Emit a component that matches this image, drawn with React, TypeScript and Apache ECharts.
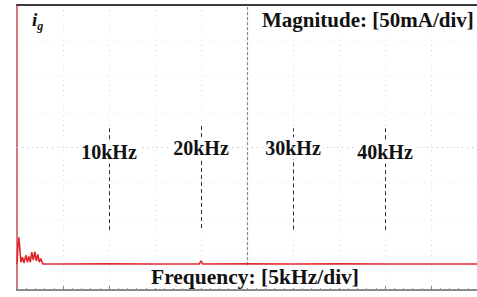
import React, { useEffect, useRef } from "react";
import * as echarts from "echarts";

// Spectrum trace (frequency in kHz, magnitude in mA)
const freqKHz = [0, 0.1, 0.2, 0.32, 0.43, 0.6, 0.75, 0.97, 1.13, 1.29, 1.45, 1.61, 1.77, 1.94, 2.1, 2.26, 2.42, 2.58, 2.8, 5, 10, 15, 19.8, 20.0, 20.2, 25, 30, 35, 40, 45, 50];
const magnitudeMA = [36, 62, 74, 56, 39, 46, 38, 49, 39, 47, 39, 53, 42, 54, 41, 50, 39, 44, 36.5, 36.4, 36.8, 36.4, 36.4, 41, 36.4, 36.6, 36.4, 36.6, 36.4, 36.5, 36.4];

// Harmonic marker lines (kHz) and their labels
const markerFreqs = [10, 20, 30, 40];
const markerLabels = ["10kHz", "20kHz", "30kHz", "40kHz"];
const markerLow = [84, 87, 85, 84];
const markerHigh = [227, 231, 227, 227];
const labelLevels = [193, 199, 199, 193];

// Axis settings: 5 kHz/div, 50 mA/div
const xMin = 0;
const xMax = 50;
const xDiv = 5;
const yMin = 0;
const yMax = 400;
const yDiv = 50;

const SERIF = "'Liberation Serif', 'Times New Roman', serif";

export default function App() {
  const ref = useRef<HTMLDivElement>(null);

  useEffect(() => {
    if (!ref.current) return;
    const chart = echarts.init(ref.current, undefined, { renderer: "svg" });
    const traceData = freqKHz.map((f, i) => [f, magnitudeMA[i]]);

    chart.setOption({
      animation: false,
      backgroundColor: "#ffffff",
      grid: { left: 17, top: 5, width: 465, height: 285, containLabel: false },
      xAxis: [
        {
          type: "value",
          min: xMin,
          max: xMax,
          interval: xDiv,
          position: "bottom",
          axisLine: { show: true, lineStyle: { color: "#666", width: 1.5 } },
          axisTick: { show: true, inside: true, length: 4, lineStyle: { color: "#888" } },
          minorTick: { show: true, splitNumber: 5, length: 2, lineStyle: { color: "#999" } },
          axisLabel: { show: false },
          splitLine: { show: true, lineStyle: { color: "#dedede", type: [1, 4], width: 1 } },
        },
        {
          type: "value",
          min: xMin,
          max: xMax,
          interval: xDiv,
          position: "top",
          axisLine: { show: true, lineStyle: { color: "#3a3a3a", width: 2 } },
          axisTick: { show: false },
          axisLabel: { show: false },
          splitLine: { show: false },
        },
      ],
      yAxis: {
        type: "value",
        min: yMin,
        max: yMax,
        interval: yDiv,
        axisLine: { show: true, lineStyle: { color: "#d27a82", width: 2 } },
        axisTick: { show: false },
        axisLabel: { show: false },
        splitLine: { show: true, lineStyle: { color: "#e6e6e6", type: [1, 5], width: 1 } },
      },
      series: [
        {
          type: "line",
          data: traceData,
          showSymbol: false,
          smooth: false,
          clip: true,
          lineStyle: { color: "#e3262c", width: 1.6 },
          z: 5,
          markLine: {
            silent: true,
            symbol: "none",
            label: { show: false },
            lineStyle: { color: "#333", type: [4, 3], width: 1 },
            data: [
              ...markerFreqs.map((f, i) => [
                { coord: [f, markerLow[i]] },
                { coord: [f, markerHigh[i]] },
              ]),
              [
                { coord: [25, yMin], lineStyle: { color: "#8a8a8a", type: [3, 2], width: 1.2 } },
                { coord: [25, yMax] },
              ],
              [
                { coord: [xMin, 200], lineStyle: { color: "#c4c4c4", type: [1, 4], width: 1.2 } },
                { coord: [xMax, 200] },
              ],
            ],
          },
          markPoint: {
            silent: true,
            symbol: "rect",
            symbolSize: 0,
            data: markerFreqs.map((f, i) => ({ coord: [f, labelLevels[i]], name: markerLabels[i] })),
            label: {
              show: true,
              position: "inside",
              formatter: "{b}",
              fontFamily: SERIF,
              fontWeight: "bold",
              fontSize: 20,
              color: "#111",
              backgroundColor: "#ffffff",
              padding: [1, 2],
            },
          },
        },
      ],
      graphic: [
        {
          type: "text",
          left: 32,
          top: 10,
          style: {
            text: "{i|i}{g|g}",
            rich: {
              i: { fontFamily: SERIF, fontStyle: "italic", fontWeight: "bold", fontSize: 19, fill: "#111", verticalAlign: "top" },
              g: { fontFamily: SERIF, fontStyle: "italic", fontWeight: "bold", fontSize: 12, fill: "#111", padding: [10, 0, 0, 0] },
            },
          },
          z: 10,
        },
        {
          type: "text",
          x: 262,
          y: 20,
          style: {
            text: "Magnitude: [50mA/div]",
            fontFamily: SERIF,
            fontWeight: "bold",
            fontSize: 21,
            fill: "#111",
            textAlign: "left",
            textVerticalAlign: "middle",
            backgroundColor: "#ffffff",
          },
          z: 10,
        },
        {
          type: "text",
          x: 151,
          y: 277,
          style: {
            text: "Frequency: [5kHz/div]",
            fontFamily: SERIF,
            fontWeight: "bold",
            fontSize: 21.5,
            fill: "#111",
            textAlign: "left",
            textVerticalAlign: "middle",
            backgroundColor: "#ffffff",
          },
          z: 10,
        },
      ],
    });

    return () => chart.dispose();
  }, []);

  return (
    <div
      ref={ref}
      style={{ position: "fixed", left: 0, top: 0, width: 477, height: 297, overflow: "hidden", background: "#fff" }}
    />
  );
}
